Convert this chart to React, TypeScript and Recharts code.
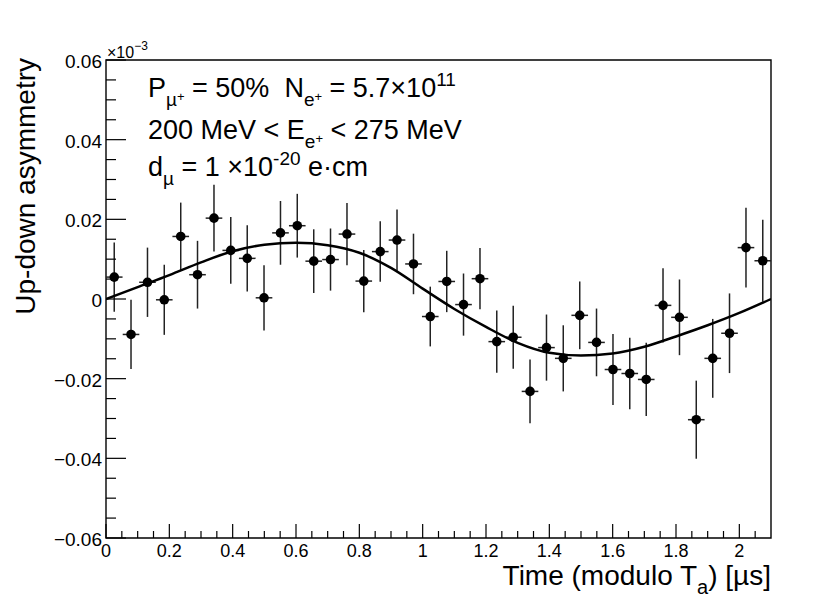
import React from 'react';
import {
  ComposedChart,
  Scatter,
  Line,
  XAxis,
  YAxis,
  ErrorBar,
  ReferenceArea,
} from 'recharts';

const FONT = '"Liberation Sans", Arial, Helvetica, sans-serif';

// bin centres [µs]
const binTimes = [
  0.026, 0.079, 0.131, 0.184, 0.236, 0.289, 0.341, 0.394, 0.446, 0.499,
  0.551, 0.604, 0.656, 0.709, 0.761, 0.814, 0.866, 0.919, 0.971, 1.024,
  1.076, 1.129, 1.181, 1.234, 1.286, 1.339, 1.391, 1.444, 1.496, 1.549,
  1.601, 1.654, 1.706, 1.759, 1.811, 1.864, 1.916, 1.969, 2.021, 2.074,
];

// measured up-down asymmetry per bin
const asymmetry = [
  0.0055, -0.0089, 0.0042, -0.0002, 0.0157, 0.0061, 0.0203, 0.0122, 0.0102, 0.0003,
  0.0166, 0.0184, 0.0095, 0.0099, 0.0163, 0.0045, 0.0119, 0.0148, 0.0088, -0.0044,
  0.0044, -0.0014, 0.0051, -0.0107, -0.0096, -0.0232, -0.0122, -0.0149, -0.0041, -0.0109,
  -0.0177, -0.0187, -0.0202, -0.0016, -0.0046, -0.0303, -0.0149, -0.0086, 0.0129, 0.0096,
];

// statistical error per bin
const asymmetryErr = [
  0.0087, 0.0087, 0.0087, 0.0088, 0.0085, 0.0085, 0.0084, 0.0084, 0.0083, 0.0082,
  0.008, 0.008, 0.008, 0.0078, 0.0078, 0.0078, 0.0076, 0.0077, 0.0076, 0.0075,
  0.0077, 0.0078, 0.0077, 0.0078, 0.0079, 0.008, 0.0083, 0.0083, 0.0085, 0.0085,
  0.0089, 0.009, 0.0092, 0.0093, 0.0095, 0.0098, 0.0099, 0.01, 0.01, 0.0103,
];

const binHalfWidth = 0.02625;

// fitted curve
const fitTimes = [
  0, 0.1, 0.2, 0.3, 0.4, 0.5, 0.6, 0.7, 0.8, 0.9, 1.0,
  1.1, 1.2, 1.3, 1.4, 1.5, 1.6, 1.7, 1.8, 1.9, 2.0, 2.1,
];
const fitValues = [
  0, 0.003, 0.006, 0.0092, 0.012, 0.0136, 0.0141, 0.0135, 0.0116, 0.0078, 0.0026,
  -0.0025, -0.007, -0.011, -0.0135, -0.0142, -0.0137, -0.012, -0.0094, -0.0066, -0.0035, 0,
];

const xTicks = [
  0, 0.05, 0.1, 0.15, 0.2, 0.25, 0.3, 0.35, 0.4, 0.45, 0.5, 0.55, 0.6, 0.65, 0.7,
  0.75, 0.8, 0.85, 0.9, 0.95, 1, 1.05, 1.1, 1.15, 1.2, 1.25, 1.3, 1.35, 1.4, 1.45,
  1.5, 1.55, 1.6, 1.65, 1.7, 1.75, 1.8, 1.85, 1.9, 1.95, 2, 2.05,
];
const xMajorTicks = [0, 0.2, 0.4, 0.6, 0.8, 1, 1.2, 1.4, 1.6, 1.8, 2];
const xTickLabels = ['0', '0.2', '0.4', '0.6', '0.8', '1', '1.2', '1.4', '1.6', '1.8', '2'];

const yTicks = [
  -0.06, -0.055, -0.05, -0.045, -0.04, -0.035, -0.03, -0.025, -0.02, -0.015, -0.01,
  -0.005, 0, 0.005, 0.01, 0.015, 0.02, 0.025, 0.03, 0.035, 0.04, 0.045, 0.05, 0.055, 0.06,
];
const yMajorTicks = [-0.06, -0.04, -0.02, 0, 0.02, 0.04, 0.06];
const yTickLabels = ['\u22120.06', '\u22120.04', '\u22120.02', '0', '0.02', '0.04', '0.06'];

const points = binTimes.map((t, i) => ({
  t,
  a: asymmetry[i],
  ey: asymmetryErr[i],
  ex: binHalfWidth,
}));

const fit = fitTimes.map((t, i) => ({ t, a: fitValues[i] }));

const majorIndex = (list: number[], v: number) =>
  list.findIndex((m) => Math.abs(m - v) < 1e-6);

const XTick = (props: any) => {
  const { x, y, payload } = props;
  const idx = majorIndex(xMajorTicks, payload.value);
  const len = idx >= 0 ? 14 : 7;
  return (
    <g>
      <line x1={x} x2={x} y1={y} y2={y - len} stroke="#000" strokeWidth={1.2} />
      {idx >= 0 && (
        <text x={x} y={y + 19} textAnchor="middle" fontSize={18} fontFamily={FONT} fill="#000">
          {xTickLabels[idx]}
        </text>
      )}
    </g>
  );
};

const YTick = (props: any) => {
  const { x, y, payload } = props;
  const idx = majorIndex(yMajorTicks, payload.value);
  const len = idx >= 0 ? 20 : 10;
  return (
    <g>
      <line x1={x} x2={x + len} y1={y} y2={y} stroke="#000" strokeWidth={1.2} />
      {idx >= 0 && (
        <text x={x - 4} y={y + 8} textAnchor="end" fontSize={19} fontFamily={FONT} fill="#000">
          {yTickLabels[idx]}
        </text>
      )}
    </g>
  );
};

const Dot = (props: any) => {
  const { cx, cy } = props;
  return <circle cx={cx} cy={cy} r={4.8} fill="#000" />;
};

export default function App() {
  return (
    <div style={{ position: 'absolute', left: 0, top: 0, width: 830, height: 598, background: '#fff' }}>
      <ComposedChart
        width={830}
        height={598}
        margin={{ top: 60, right: 59, bottom: 0, left: 46 }}
      >
        <XAxis
          dataKey="t"
          type="number"
          domain={[0, 2.1]}
          allowDataOverflow
          ticks={xTicks}
          interval={0}
          tick={<XTick />}
          tickSize={0}
          tickMargin={0}
          tickLine={false}
          axisLine={false}
          height={60}
        />
        <YAxis
          dataKey="a"
          type="number"
          domain={[-0.06, 0.06]}
          allowDataOverflow
          ticks={yTicks}
          interval={0}
          tick={<YTick />}
          tickSize={0}
          tickMargin={0}
          tickLine={false}
          axisLine={false}
          width={60}
        />
        <ReferenceArea
          x1={0}
          x2={2.1}
          y1={-0.06}
          y2={0.06}
          fill="none"
          stroke="#000"
          strokeWidth={1.4}
          ifOverflow="visible"
        />
        <Scatter data={points} dataKey="a" shape={<Dot />} isAnimationActive={false}>
          <ErrorBar dataKey="ey" direction="y" width={0} stroke="#222" strokeWidth={1.5} isAnimationActive={false} />
          <ErrorBar dataKey="ex" direction="x" width={0} stroke="#222" strokeWidth={1.5} isAnimationActive={false} />
        </Scatter>
        <Line
          data={fit}
          dataKey="a"
          type="monotone"
          stroke="#000"
          strokeWidth={2.5}
          dot={false}
          isAnimationActive={false}
        />
      </ComposedChart>
      <svg
        width={830}
        height={598}
        style={{ position: 'absolute', left: 0, top: 0, pointerEvents: 'none' }}
        fontFamily={FONT}
        fill="#000"
      >
        <text x={107} y={58} fontSize={16}>
          ×10<tspan fontSize={12} dy={-8}>{'\u22123'}</tspan>
        </text>
        <text transform="translate(35,58) rotate(-90)" textAnchor="end" fontSize={28}>
          Up-down asymmetry
        </text>
        <text x={771} y={585} textAnchor="end" fontSize={28} style={{ whiteSpace: 'pre' }}>
          Time (modulo T<tspan fontSize={20} dy={9}>a</tspan>
          <tspan fontSize={28} dy={-9}>) [µs]</tspan>
        </text>
        <text x={148} y={97} fontSize={27} style={{ whiteSpace: 'pre' }}>
          P<tspan fontSize={19} dy={9}>µ</tspan>
          <tspan fontSize={13} dy={-5}>+</tspan>
          <tspan fontSize={27} dy={-4}>{' = 50%  N'}</tspan>
          <tspan fontSize={19} dy={9}>e</tspan>
          <tspan fontSize={13} dy={-5}>+</tspan>
          <tspan fontSize={27} dy={-4}>{' = 5.7×10'}</tspan>
          <tspan fontSize={19} dy={-11}>11</tspan>
        </text>
        <text x={148} y={139} fontSize={27} style={{ whiteSpace: 'pre' }}>
          {'200 MeV < E'}
          <tspan fontSize={19} dy={9}>e</tspan>
          <tspan fontSize={13} dy={-5}>+</tspan>
          <tspan fontSize={27} dy={-4}>{' < 275 MeV'}</tspan>
        </text>
        <text x={148} y={176} fontSize={27} style={{ whiteSpace: 'pre' }}>
          d<tspan fontSize={19} dy={9}>µ</tspan>
          <tspan fontSize={27} dy={-9}>{' = 1 ×10'}</tspan>
          <tspan fontSize={19} dy={-11}>-20</tspan>
          <tspan fontSize={27} dy={11}>{' e·cm'}</tspan>
        </text>
      </svg>
    </div>
  );
}
